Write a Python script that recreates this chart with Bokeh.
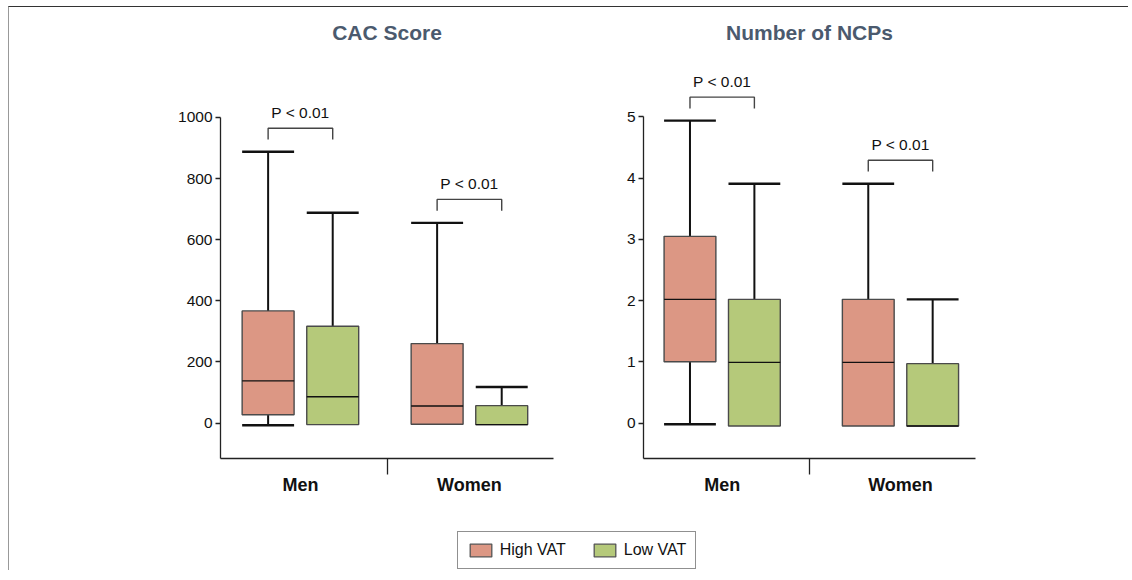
from bokeh.plotting import figure
from bokeh.models import Range1d, FixedTicker, Legend, LegendItem, ColumnDataSource
from bokeh.layouts import row, column
from bokeh.embed import file_html
from bokeh.resources import INLINE
from bokeh.core.properties import value

# ---------------- data ----------------
groups = ["Men", "Women"]
series = ["High VAT", "Low VAT"]
series_colors = ["#DC9784", "#B5C97A"]
titles = ["CAC Score", "Number of NCPs"]
p_labels = ["P < 0.01", "P < 0.01"]

# order of values: Men-High, Men-Low, Women-High, Women-Low
cac_low = [-7, -5, -4, -5]
cac_q1 = [27, -5, -4, -5]
cac_med = [138, 86, 56, -5]
cac_q3 = [367, 317, 260, 57]
cac_high = [888, 688, 655, 118]
cac_ticks = [0, 200, 400, 600, 800, 1000]

ncp_low = [-0.02, -0.05, -0.05, -0.05]
ncp_q1 = [1.0, -0.05, -0.05, -0.05]
ncp_med = [2.02, 0.99, 0.99, -0.05]
ncp_q3 = [3.05, 2.02, 2.02, 0.97]
ncp_high = [4.94, 3.91, 3.91, 2.02]
ncp_ticks = [0, 1, 2, 3, 4, 5]

FONT = "Liberation Sans"
BOX_W = 0.312
OFF = 0.194
TITLE_PX = 22  # title centre, pixels below frame top


def make_panel(title, low, q1, med, q3, high, ticks, y_start, y_end, group_pos,
               width, height, mb_left, mb_right, mb_top, mb_bottom):
    p = figure(width=width, height=height, x_range=Range1d(0, 2),
               y_range=Range1d(y_start, y_end), output_backend="svg",
               toolbar_location=None, min_border_left=mb_left,
               min_border_right=mb_right, min_border_top=mb_top,
               min_border_bottom=mb_bottom)
    p.grid.visible = False
    p.outline_line_color = None
    p.background_fill_color = "white"
    p.border_fill_color = "white"

    frame_h = height - mb_top - mb_bottom
    upp = (y_end - y_start) / frame_h

    xs, cols = [], []
    for gi in range(len(groups)):
        for si in range(len(series)):
            xs.append(group_pos[gi] + (-OFF if si == 0 else OFF))
            cols.append(series_colors[si])
    left = [x - BOX_W / 2 for x in xs]
    right = [x + BOX_W / 2 for x in xs]

    src = ColumnDataSource(dict(x=xs, left=left, right=right, low=low, q1=q1,
                                med=med, q3=q3, high=high, color=cols))
    # whiskers
    p.segment(x0="x", x1="x", y0="q3", y1="high", source=src,
              line_color="#111111", line_width=2)
    p.segment(x0="x", x1="x", y0="low", y1="q1", source=src,
              line_color="#111111", line_width=2)
    # caps
    p.segment(x0="left", x1="right", y0="high", y1="high", source=src,
              line_color="#111111", line_width=2.4)
    lc = [i for i in range(len(xs)) if low[i] < q1[i]]
    if lc:
        p.segment(x0=[left[i] for i in lc], x1=[right[i] for i in lc],
                  y0=[low[i] for i in lc], y1=[low[i] for i in lc],
                  line_color="#111111", line_width=2.4)
    # boxes
    p.quad(left="left", right="right", bottom="q1", top="q3", source=src,
           fill_color="color", line_color="#4a4a4a", line_width=1.4)
    # medians
    p.segment(x0="left", x1="right", y0="med", y1="med", source=src,
              line_color="#111111", line_width=1.4)

    # significance brackets
    bxs, bys, tx, ty = [], [], [], []
    for gi in range(len(groups)):
        i0, i1 = gi * 2, gi * 2 + 1
        top = max(high[i0], high[i1]) + 23.5 * upp
        leg = top - 11.3 * upp
        bxs.append([xs[i0], xs[i0], xs[i1], xs[i1]])
        bys.append([leg, top, top, leg])
        tx.append((xs[i0] + xs[i1]) / 2)
        ty.append(top + 16 * upp)
    p.multi_line(xs=bxs, ys=bys, line_color="#444444", line_width=1.4)
    p.text(x=tx, y=ty, text=p_labels, text_align="center",
           text_baseline="middle", text_font=value(FONT),
           text_font_size=value("15.5px"), text_color="#111111")

    # panel title (drawn inside the frame's top band)
    p.text(x=[1.0], y=[y_end - TITLE_PX * upp], text=[title], text_align="center",
           text_baseline="middle", text_font=value(FONT),
           text_font_size=value("21px"), text_font_style="bold",
           text_color="#4B5A6E")

    # y axis
    ya = p.yaxis[0]
    ya.ticker = FixedTicker(ticks=ticks)
    ya.bounds = (y_start, ticks[-1])
    ya.major_tick_out = 5
    ya.major_tick_in = 0
    ya.minor_tick_line_color = None
    ya.major_label_standoff = 3
    ya.major_label_text_font = FONT
    ya.major_label_text_font_size = "15.5px"
    ya.major_label_text_color = "#111111"
    ya.axis_line_color = "#222222"
    ya.axis_line_width = 1.3
    ya.major_tick_line_color = "#222222"
    ya.major_tick_line_width = 1.3

    # x axis
    xa = p.xaxis[0]
    xa.ticker = FixedTicker(ticks=list(group_pos), minor_ticks=[1.0])
    xa.major_label_overrides = {float(group_pos[i]): groups[i] for i in range(len(groups))}
    xa.major_tick_line_color = None
    xa.major_tick_out = 0
    xa.major_tick_in = 0
    xa.minor_tick_out = 16
    xa.minor_tick_in = 0
    xa.minor_tick_line_color = "#222222"
    xa.minor_tick_line_width = 1.3
    xa.major_label_standoff = 0
    xa.major_label_text_font = FONT
    xa.major_label_text_font_size = "18px"
    xa.major_label_text_font_style = "bold"
    xa.major_label_text_color = "#111111"
    xa.axis_line_color = "#222222"
    xa.axis_line_width = 1.3
    return p


p1 = make_panel(titles[0], cac_low, cac_q1, cac_med, cac_q3, cac_high, cac_ticks,
                -116, 1350, [0.48, 1.495], 581, 509, 211, 37, 3, 58)
p2 = make_panel(titles[1], ncp_low, ncp_q1, ncp_med, ncp_q3, ncp_high, ncp_ticks,
                -0.58, 6.74, [0.474, 1.548], 538, 509, 53, 153, 3, 58)

# legend figure
p3 = figure(width=1119, height=54, x_range=Range1d(0, 1), y_range=Range1d(0, 1),
            output_backend="svg", toolbar_location=None, min_border=0)
p3.axis.visible = False
p3.grid.visible = False
p3.outline_line_color = None
items = []
for s, c in zip(series, series_colors):
    r = p3.quad(left=[float("nan")], right=[float("nan")], bottom=[float("nan")],
                top=[float("nan")], fill_color=c, line_color="#555555", line_width=1.3)
    items.append(LegendItem(label=s, renderers=[r]))
leg = Legend(items=items, orientation="horizontal", location=(447.7, 1.5),
             glyph_width=27, glyph_height=16, label_height=16,
             label_standoff=6, spacing=25, padding=9, margin=0,
             label_text_font=FONT, label_text_font_size="16px",
             label_text_color="#111111", border_line_color="#222222",
             border_line_width=1.3, background_fill_color="white",
             background_fill_alpha=1.0)
p3.add_layout(leg)

layout = column(row(p1, p2), p3,
                styles={"border-top": "1px solid #333333",
                        "border-left": "1px solid #999999",
                        "margin": "6px 0 0 8px"})

open("out.html", "w").write(file_html(layout, INLINE))
